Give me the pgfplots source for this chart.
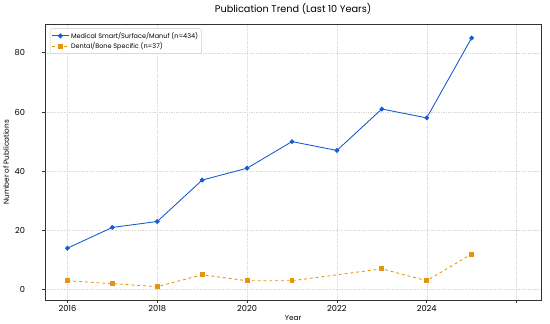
\documentclass[border=0pt]{standalone}
\usepackage{fontspec}
\setmainfont{Poppins}
\usepackage{pgfplots}
\pgfplotsset{compat=1.18}
\definecolor{cblue}{RGB}{21,92,210}
\definecolor{corange}{RGB}{228,148,18}
\begin{document}
\begin{tikzpicture}
\begin{axis}[
  name=ax,
  scale only axis, width=509bp, height=283bp,
  xmin=2015.5, xmax=2026.55, ymin=-3.6, ymax=89.6,
  axis line style={black!80, line width=0.7pt},
  xtick={2016,2018,2020,2022,2024,2026},
  xticklabels={2016,2018,2020,2022,2024,{}},
  ytick={0,20,40,60,80},
  yticklabels={0,20,40,60,80},
  yticklabel style={anchor=east, xshift=-14bp},
  grid=major,
  major grid style={black!15, dash pattern=on 1.5pt off 1pt, line width=0.4pt},
  tick style={black!80, line width=0.6pt},
  tick align=outside, major tick length=3bp,
  xtick pos=bottom, ytick pos=left,
  tick label style={font=\fontsize{8.5}{10}\selectfont},
  xticklabel style={yshift=1bp},
  xlabel={Year}, ylabel={Number of Publications},
  label style={font=\fontsize{7.5}{9}\selectfont},
  xlabel style={yshift=3bp},
  ylabel style={yshift=-1bp},
  title={Publication Trend (Last 10 Years)},
  title style={font=\fontsize{10}{12}\selectfont, at={(0.5,1)}, anchor=south, yshift=1bp},
  legend style={font=\fontsize{6.7}{8}\selectfont, draw=black!20, rounded corners=1.5pt, inner sep=1.5pt, row sep=-1pt, at={(0.01,0.985)}, anchor=north west},
  legend cell align=left,
]
\addplot[cblue, line width=0.9pt, mark=*, mark size=2pt] coordinates {
(2016,14) (2017,21) (2018,23) (2019,37) (2020,41) (2021,50) (2022,47) (2023,61) (2024,58) (2025,85)};
\addlegendentry{Medical Smart/Surface/Manuf (n=434)}
\addplot[corange, line width=0.9pt, dashed, mark=square*, mark size=2pt, mark options={solid}] coordinates {
(2016,3) (2017,2) (2018,1) (2019,5) (2020,3) (2021,3) (2023,7) (2024,3) (2025,12)};
\addlegendentry{Dental/Bone Specific (n=37)}
\end{axis}
\path (ax.north east) ++(9bp,0);
\end{tikzpicture}
\end{document}
